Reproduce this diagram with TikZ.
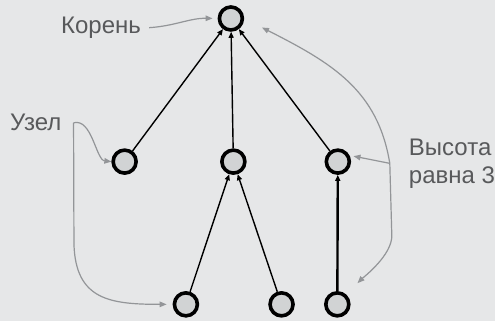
\documentclass[tikz,border=0pt]{standalone}
\usepackage{fontspec}
\setmainfont{Liberation Sans}
\usetikzlibrary{arrows.meta}
\definecolor{bggray}{HTML}{E6E7E8}
\definecolor{vertfill}{HTML}{D1D3D4}
\definecolor{textgray}{HTML}{58595B}
\definecolor{hintgray}{HTML}{939598}
\begin{document}
\begin{tikzpicture}[x=1pt,y=-1pt,
	vert/.style={circle,draw=black,fill=vertfill,line width=3.6pt,minimum size=23pt,inner sep=0pt},
	edge/.style={line width=1.4pt,-{Triangle[length=6pt,width=5pt]}},
	hint/.style={hintgray,line width=1.2pt,-{Triangle[length=7pt,width=5.5pt]}},
	lbl/.style={text=textgray,font=\fontsize{24}{28}\selectfont,inner sep=0pt}]
				\fill[bggray] (0,0) rectangle (495,321);
				\node[vert] (root) at (231,18.5) {};
				\node[vert] (left) at (124.7,161.7) {};
				\node[vert] (mid) at (233.5,161.7) {};
				\node[vert] (right) at (338,161.7) {};
				\node[vert] (leafa) at (186,304.5) {};
				\node[vert] (leafb) at (281.7,304.5) {};
				\node[vert] (leafc) at (337.5,304.5) {};
				\node[lbl,anchor=base west] (koren) at (61,34) {Корень};
				\node[lbl,anchor=base west] (uzel) at (10,131) {Узел};
				\node[lbl,anchor=north west,align=left] (vysota) at (409,138.5) {Высота\\равна 3};
				\draw[edge] (left) -- (root);
				\draw[edge] (mid) -- (root);
				\draw[edge] (right) -- (root);
				\draw[edge] (leafa) -- (mid);
				\draw[edge] (leafb) -- (mid);
				\draw[edge,line width=2.4pt] (leafc) -- (right);
				\coordinate (uzfork) at ([xshift=12pt]uzel.east);
				\coordinate (vyfork) at ([xshift=-19pt]vysota.west);
				\draw[hint,shorten <=8pt,shorten >=5pt] (koren.east) .. controls (175,26) and (190,18) .. (root.west);
				\draw[hint] (uzfork) .. controls (92,118) and (96,160) .. (left.west);
				\draw[hint,shorten >=6pt] (uzfork) -- (74,245) .. controls (76,300) and (110,304.5) .. (leafa.west);
				\draw[hint,shorten >=4pt] (vyfork) -- (right.28);
				\draw[hint,shorten >=20pt] (vyfork) .. controls (378,90) and (332,63) .. (root.east);
				\draw[hint,shorten >=16pt] (vyfork) -- (392,235) .. controls (393,255) and (363,278) .. (leafc.48);
			\end{tikzpicture}
\end{document}
